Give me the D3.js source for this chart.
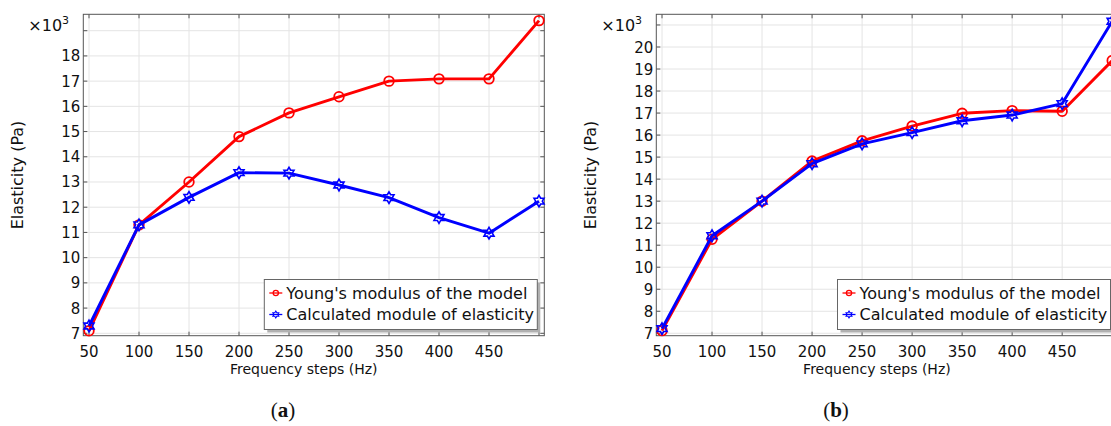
<!DOCTYPE html>
<html>
<head>
<meta charset="utf-8">
<script src="https://cdn.jsdelivr.net/npm/d3@7"></script>
<style>
  body { margin: 0; background: #fff; }
  svg { display: block; }
  text { font-family: "DejaVu Sans", sans-serif; fill: #111; }
</style>
</head>
<body>
<div id="vis"></div>
<script>
// frequency steps (Hz), shared by both panels
var freqs = [50, 100, 150, 200, 250, 300, 350, 400, 450, 500];
var freqTicks = [50, 100, 150, 200, 250, 300, 350, 400, 450];

// panel (a), values in x10^3 Pa
var youngA = [7.1, 11.3, 13.0, 14.8, 15.74, 16.38, 17.0, 17.09, 17.09, 19.4];
var calcA = [7.29, 11.3, 12.39, 13.37, 13.35, 12.88, 12.38, 11.59, 10.97, 12.24];
var yTicksA = [7, 8, 9, 10, 11, 12, 13, 14, 15, 16, 17, 18];
var yGridA = [7, 8, 9, 10, 11, 12, 13, 14, 15, 16, 17, 18, 19];

// panel (b), values in x10^3 Pa
var youngB = [7.12, 11.27, 13.0, 14.82, 15.74, 16.41, 16.99, 17.11, 17.08, 19.38];
var calcB = [7.21, 11.43, 13.0, 14.7, 15.6, 16.11, 16.65, 16.91, 17.43, 21.17];
var yTicksB = [7, 8, 9, 10, 11, 12, 13, 14, 15, 16, 17, 18, 19, 20];
var yGridB = [7, 8, 9, 10, 11, 12, 13, 14, 15, 16, 17, 18, 19, 20, 21];

var seriesNames = ["Young's modulus of the model", "Calculated module of elasticity"];
var captions = ["a", "b"];

var width = 1111;
var height = 426;

var svg = d3.select('#vis').append('svg')
  .attr('width', width)
  .attr('height', height);

// six pointed star outline
function starPath(r) {
  var pts = [];
  for (var i = 0; i < 12; i++) {
    var a = -Math.PI / 2 + i * Math.PI / 6;
    var rr = i % 2 === 0 ? r : r * 0.577;
    pts.push([rr * Math.cos(a), rr * Math.sin(a)]);
  }
  return 'M' + pts.map(function(p) { return p[0].toFixed(2) + ',' + p[1].toFixed(2); }).join('L') + 'Z';
}

function drawPanel(opts) {
  var x = d3.scaleLinear().domain([44.3, 505.3]).range([opts.left, opts.right]);
  var y = d3.scaleLinear().domain(opts.yDomain).range([opts.bottom, opts.top]);

  var g = svg.append('g');

  // grid
  g.selectAll('.vgrid').data(freqs).enter().append('line')
    .attr('x1', function(d) { return x(d); })
    .attr('x2', function(d) { return x(d); })
    .attr('y1', opts.top).attr('y2', opts.bottom)
    .attr('stroke', '#e4e4e4').attr('stroke-width', 1);
  g.selectAll('.hgrid').data(opts.yGrid).enter().append('line')
    .attr('y1', function(d) { return y(d); })
    .attr('y2', function(d) { return y(d); })
    .attr('x1', opts.left).attr('x2', opts.right)
    .attr('stroke', '#e4e4e4').attr('stroke-width', 1);

  // inside ticks on all four sides
  var tl = 4;
  freqs.forEach(function(f) {
    g.append('line').attr('x1', x(f)).attr('x2', x(f)).attr('y1', opts.top).attr('y2', opts.top + tl).attr('stroke', '#555');
    g.append('line').attr('x1', x(f)).attr('x2', x(f)).attr('y1', opts.bottom).attr('y2', opts.bottom - tl).attr('stroke', '#555');
  });
  opts.yGrid.forEach(function(v) {
    g.append('line').attr('y1', y(v)).attr('y2', y(v)).attr('x1', opts.left).attr('x2', opts.left + tl).attr('stroke', '#555');
    g.append('line').attr('y1', y(v)).attr('y2', y(v)).attr('x1', opts.right).attr('x2', opts.right - tl).attr('stroke', '#555');
  });

  // frame
  g.append('rect')
    .attr('x', opts.left).attr('y', opts.top)
    .attr('width', opts.right - opts.left).attr('height', opts.bottom - opts.top)
    .attr('fill', 'none').attr('stroke', '#555').attr('stroke-width', 1);

  // tick labels
  g.selectAll('.xlab').data(freqTicks).enter().append('text')
    .attr('x', function(d) { return x(d); })
    .attr('y', opts.bottom + 21.5)
    .attr('text-anchor', 'middle')
    .style('font-size', '15px')
    .text(function(d) { return d; });
  g.selectAll('.ylab').data(opts.yTicks).enter().append('text')
    .attr('x', opts.left - 3)
    .attr('y', function(d) { return y(d) + 5.5; })
    .attr('text-anchor', 'end')
    .style('font-size', '15px')
    .text(function(d) { return d; });

  // exponent label
  var ex = g.append('text')
    .attr('x', opts.left - 55).attr('y', 31)
    .style('font-size', '16px');
  ex.append('tspan').text('\u00d710');
  ex.append('tspan').attr('dy', -7).style('font-size', '11px').text('3');

  // axis titles
  g.append('text')
    .attr('x', (opts.left + opts.right) / 2 - 10)
    .attr('y', opts.bottom + 38)
    .attr('text-anchor', 'middle')
    .style('font-size', '14px')
    .text('Frequency steps (Hz)');
  g.append('text')
    .attr('transform', 'translate(' + (opts.left - 60) + ',' + ((opts.top + opts.bottom) / 2) + ') rotate(-90)')
    .attr('text-anchor', 'middle')
    .style('font-size', '16px')
    .text('Elasticity (Pa)');

  // lines
  var line = d3.line()
    .x(function(d, i) { return x(freqs[i]); })
    .y(function(d) { return y(d); });

  g.append('path').datum(opts.young)
    .attr('fill', 'none').attr('stroke', '#ff0000').attr('stroke-width', 2.9)
    .attr('stroke-linejoin', 'round').attr('d', line);
  g.selectAll('.circ').data(opts.young).enter().append('circle')
    .attr('cx', function(d, i) { return x(freqs[i]); })
    .attr('cy', function(d) { return y(d); })
    .attr('r', 4.8)
    .attr('fill', 'none').attr('stroke', '#ff0000').attr('stroke-width', 1.8);

  g.append('path').datum(opts.calc)
    .attr('fill', 'none').attr('stroke', '#0000ff').attr('stroke-width', 2.9)
    .attr('stroke-linejoin', 'round').attr('d', line);
  g.selectAll('.star').data(opts.calc).enter().append('path')
    .attr('transform', function(d, i) { return 'translate(' + x(freqs[i]) + ',' + y(d) + ')'; })
    .attr('d', starPath(5.8))
    .attr('fill', 'none').attr('stroke', '#0000ff').attr('stroke-width', 1.6);

  // legend
  var lx = opts.right - 280, ly = 279.5, lw = 273, lh = 50;
  g.append('rect')
    .attr('x', lx + 3).attr('y', ly + 3).attr('width', lw).attr('height', lh)
    .attr('fill', '#b0b0b0');
  g.append('rect')
    .attr('x', lx).attr('y', ly).attr('width', lw).attr('height', lh)
    .attr('fill', '#fff').attr('stroke', '#666').attr('stroke-width', 1);

  var rows = [
    {name: seriesNames[0], color: '#ff0000', mark: 'circle'},
    {name: seriesNames[1], color: '#0000ff', mark: 'star'}
  ];
  rows.forEach(function(r, i) {
    var cy = ly + 13.5 + i * 21.5;
    g.append('line')
      .attr('x1', lx + 5).attr('x2', lx + 18).attr('y1', cy).attr('y2', cy)
      .attr('stroke', r.color).attr('stroke-width', 1.3);
    if (r.mark === 'circle') {
      g.append('circle').attr('cx', lx + 11.5).attr('cy', cy).attr('r', 2.6)
        .attr('fill', 'none').attr('stroke', r.color).attr('stroke-width', 1.3);
    } else {
      g.append('path').attr('transform', 'translate(' + (lx + 11.5) + ',' + cy + ')')
        .attr('d', starPath(3.4))
        .attr('fill', 'none').attr('stroke', r.color).attr('stroke-width', 1.1);
    }
    g.append('text')
      .attr('x', lx + 22).attr('y', cy + 5.8)
      .style('font-size', '16px')
      .text(r.name);
  });

  // caption
  var cap = svg.append('text')
    .attr('x', opts.captionX).attr('y', 417)
    .attr('text-anchor', 'middle')
    .style('font-family', '"Liberation Serif", serif')
    .style('font-size', '21px');
  cap.append('tspan').text('(');
  cap.append('tspan').style('font-weight', 'bold').text(opts.caption);
  cap.append('tspan').text(')');
}

drawPanel({
  left: 83.3, right: 544.3, top: 14.3, bottom: 335.7,
  yDomain: [6.905, 19.65], yTicks: yTicksA, yGrid: yGridA,
  young: youngA, calc: calcA, caption: captions[0], captionX: 283
});

drawPanel({
  left: 656.3, right: 1117.5, top: 14.3, bottom: 335.7,
  yDomain: [6.89, 21.485], yTicks: yTicksB, yGrid: yGridB,
  young: youngB, calc: calcB, caption: captions[1], captionX: 836
});
</script>
</body>
</html>
